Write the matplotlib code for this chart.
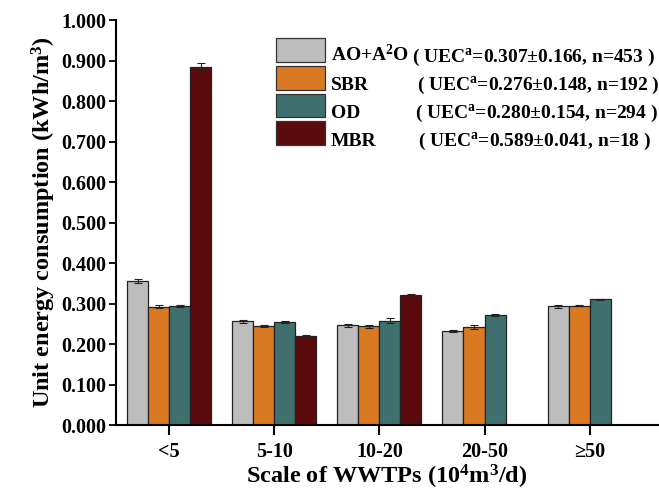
import numpy as np
import matplotlib
matplotlib.use("Agg")
import matplotlib.pyplot as plt
from matplotlib.patches import Patch

plt.rcParams['font.family'] = ['Liberation Serif', 'DejaVu Serif']
plt.rcParams['font.weight'] = 'bold'
plt.rcParams['axes.labelweight'] = 'bold'
plt.rcParams['mathtext.fontset'] = 'custom'
plt.rcParams['mathtext.rm'] = 'Liberation Serif:bold'
plt.rcParams['mathtext.bf'] = 'Liberation Serif:bold'
plt.rcParams['mathtext.it'] = 'Liberation Serif:bold'
plt.rcParams['mathtext.default'] = 'rm'

categories = ['<5', '5-10', '10-20', '20-50', '≥50']
processes = ['AO+A$^{2}$O', 'SBR', 'OD', 'MBR']
stats = ['( UEC$^{a}$=0.307±0.166, n=453 )',
         '( UEC$^{a}$=0.276±0.148, n=192 )',
         '( UEC$^{a}$=0.280±0.154, n=294 )',
         '( UEC$^{a}$=0.589±0.041, n=18 )']

ao_a2o = [0.356, 0.256, 0.246, 0.232, 0.293]
sbr = [0.292, 0.245, 0.244, 0.241, 0.295]
od = [0.294, 0.254, 0.258, 0.272, 0.310]
mbr = [0.885, 0.219, 0.322, np.nan, np.nan]

ao_a2o_err = [0.005, 0.003, 0.003, 0.003, 0.003]
sbr_err = [0.004, 0.003, 0.004, 0.005, 0.002]
od_err = [0.002, 0.003, 0.005, 0.003, 0.002]
mbr_err = [0.008, 0.002, 0.002, np.nan, np.nan]

colors = ['#BDBDBD', '#D97A22', '#3F706E', '#5A0A0C']

series = [ao_a2o, sbr, od, mbr]
errors = [ao_a2o_err, sbr_err, od_err, mbr_err]

fig = plt.figure(figsize=(6.59, 4.98), dpi=100)
ax = fig.add_axes([116 / 659, 73 / 498, 542 / 659, 405 / 498])

x = np.arange(len(categories))
width = 0.2
for i, (vals, errs) in enumerate(zip(series, errors)):
    ax.bar(x + (i - 1.5) * width, vals, width, yerr=errs, color=colors[i],
           edgecolor='#222222', linewidth=0.9, capsize=3,
           error_kw=dict(elinewidth=0.8, capthick=0.8, ecolor='#222222'))

ax.set_xlim(-0.505, 4.65)
ax.set_ylim(0, 1.0)
ax.set_yticks(np.arange(0, 1.01, 0.1))
ax.set_yticklabels([f'{v:.3f}' for v in np.arange(0, 1.01, 0.1)], fontsize=14.5)
ax.set_xticks(x)
ax.set_xticklabels(categories, fontsize=14.5)
ax.tick_params(axis='y', direction='out', length=5, width=1.3, pad=2)
ax.tick_params(axis='x', direction='out', length=7, width=1.5, pad=5)
ax.spines['top'].set_visible(False)
ax.spines['right'].set_visible(False)
ax.spines['left'].set_linewidth(1.5)
ax.spines['bottom'].set_linewidth(1.5)

ax.set_ylabel('Unit energy consumption (kWh/m$^{3}$)', fontsize=17.5, labelpad=2)
ax.set_xlabel('Scale of WWTPs (10$^{4}$m$^{3}$/d)', fontsize=17.5, labelpad=1)

# legend boxes only; names and stats are written below on a common baseline
handles = [Patch(facecolor=c, edgecolor='#333333', linewidth=0.9) for c in colors]
leg = fig.legend(handles, processes, loc='upper left', bbox_to_anchor=(276 / 659, 1 - 38.5 / 498),
                 frameon=False, fontsize=14, handlelength=2.5, handleheight=1.5,
                 handletextpad=0.3, labelspacing=0.2, borderaxespad=0, borderpad=0)
for t in leg.get_texts():
    t.set_visible(False)

baselines = [61.5, 90, 118, 145.5]
stat_x = [412, 417, 415, 418]
for name, s, yy, xx in zip(processes, stats, baselines, stat_x):
    fig.text(331 / 659, 1 - yy / 498, name, fontsize=14, va='baseline', ha='left')
    fig.text(xx / 659, 1 - yy / 498, s, fontsize=14, va='baseline', ha='left')

fig.savefig('out.png', dpi=100)
